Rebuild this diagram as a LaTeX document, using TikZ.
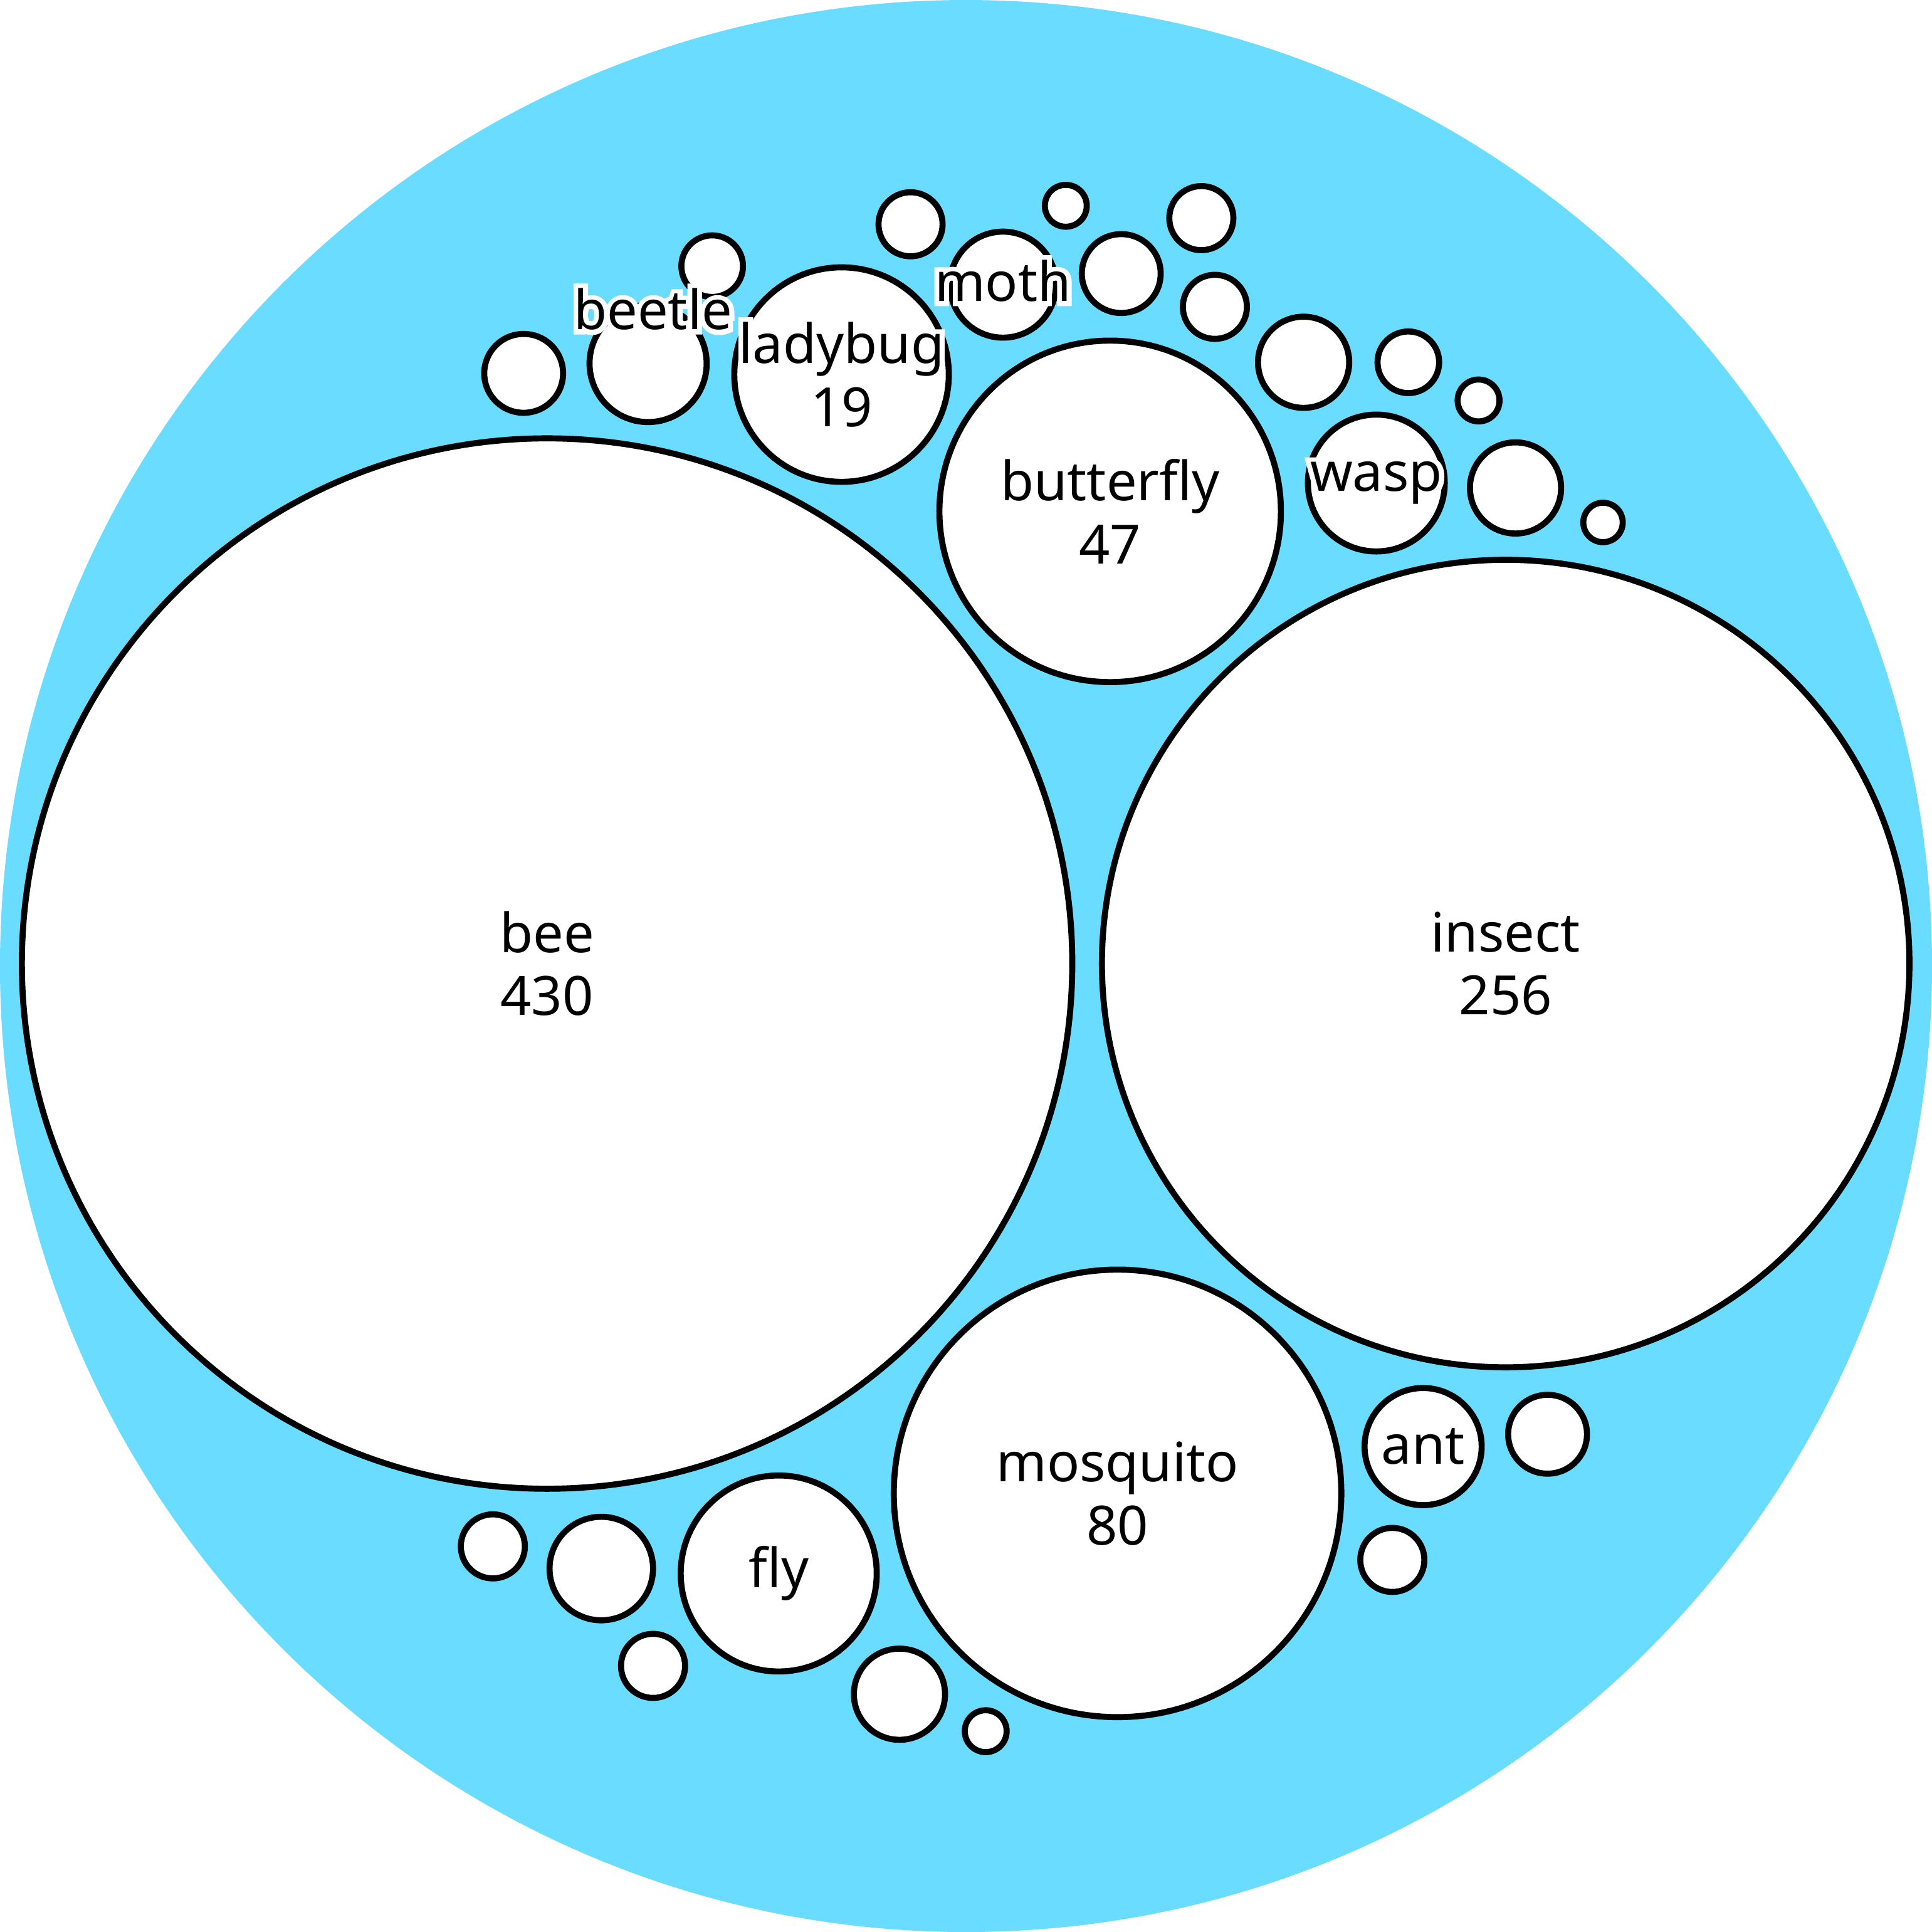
\documentclass[tikz,border=0pt]{standalone}
\usepackage{fontspec}
\setmainfont{Noto Sans}
\newfontfamily\halofont{Noto Sans}[FakeBold=18]
\usetikzlibrary{calc}
\definecolor{skyfill}{HTML}{6ADCFF}

\newcommand{\bugname}[3]{%
    \node [lbl, text=white, font=\fontsize{12.5}{14.6}\halofont] at (#2) {#3};
    \node (#1) [lbl] at (#2) {#3};
}

\begin{document}
\begin{tikzpicture}[x=0.01cm,y=-0.01cm]
    \tikzstyle{bubble}=[circle, draw=black, fill=white, line width=1.4pt, inner sep=0pt]
    \tikzstyle{lbl}=[align=center, inner sep=0pt, font=\fontsize{12.5}{14.6}\selectfont]

    \useasboundingbox (0,0) rectangle (1568,1568);
    \fill[skyfill] (784,784) circle (784);

    % big bubbles
    \node (bee) [bubble, minimum size=8.52cm] at (444,782) {};
    \node (insect) [bubble, minimum size=6.55cm] at (1222,782) {};
    \node (mosquito) [bubble, minimum size=3.63cm] at (907,1212) {};
    \node (butterfly) [bubble, minimum size=2.77cm] at (901,415) {};
    \node (ladybug) [bubble, minimum size=1.74cm] at (683,304) {};
    \node (fly) [bubble, minimum size=1.59cm] at (632,1277) {};
    \node (wasp) [bubble, minimum size=1.11cm] at (1117,392) {};
    \node (ant) [bubble, minimum size=0.95cm] at (1155,1174) {};
    \node (beetle) [bubble, minimum size=0.95cm] at (526,295) {};
    \node (moth) [bubble, minimum size=0.86cm] at (814,231) {};

    % small bubbles
    \foreach \x/\y/\r [count=\i] in {425/303/34, 578/216/27, 739/182/28, 865/167/19,
        975/177/28, 910/222/34, 986/249/28, 1058/294/39, 1143/294/27, 1200/325/19,
        1230/396/39, 1301/424/18, 400/1255/28, 488/1273/44, 530/1352/28,
        730/1375/39, 800/1405/19, 1130/1266/28, 1256/1164/34}
        \node (dot\i) [bubble, minimum size={(2*\r-4)*0.01cm}] at (\x,\y) {};

    % labels
    \coordinate (beetletop) at (530,251);
    \coordinate (mothtop) at (814,228);
    \bugname{lbee}{bee}{bee\\430}
    \bugname{linsect}{insect}{insect\\256}
    \bugname{lmosquito}{mosquito}{mosquito\\80}
    \bugname{lbutterfly}{butterfly}{butterfly\\47}
    \bugname{lladybug}{ladybug}{ladybug\\19}
    \bugname{lfly}{fly}{fly}
    \bugname{lwasp}{wasp}{wasp}
    \bugname{lant}{ant}{ant}
    \bugname{lmoth}{mothtop}{moth}
    \bugname{lbeetle}{beetletop}{beetle}
\end{tikzpicture}
\end{document}
